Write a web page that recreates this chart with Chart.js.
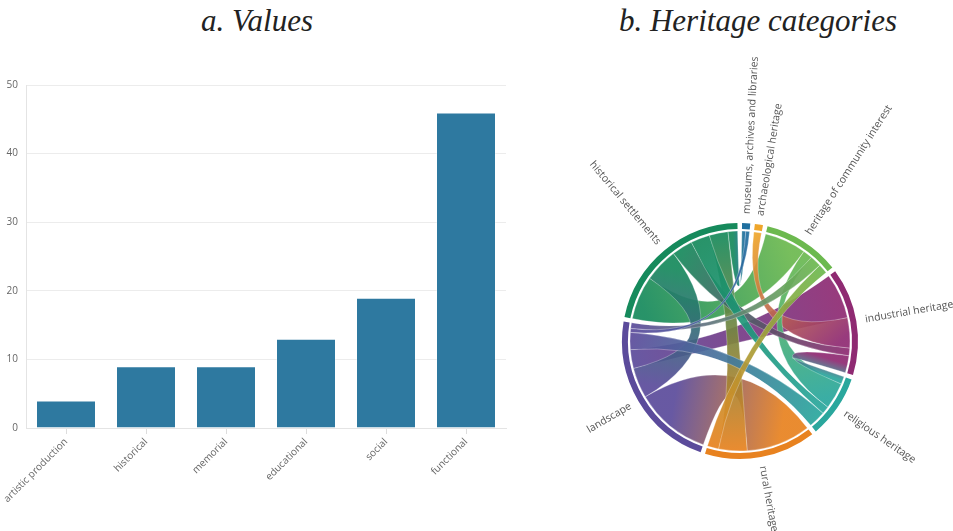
<!DOCTYPE html>
<html>
<head>
<meta charset="utf-8">
<script src="https://cdn.jsdelivr.net/npm/chart.js@4.4.1/dist/chart.umd.min.js"></script>
<style>
    body { margin: 0; width: 953px; height: 531px; background: #fff; position: relative; overflow: hidden; }
    .title { position: absolute; top: 3px; font-family: "Liberation Serif", serif; font-style: italic; font-size: 31px; color: #222; text-align: center; }
    #barBox { position: absolute; left: 0; top: 60px; width: 520px; height: 471px; }
    #chordBox { position: absolute; left: 520px; top: 50px; width: 433px; height: 481px; }
</style>
</head>
<body>
<div class="title" style="left:0;width:514px">a. Values</div>
<div class="title" style="left:560px;width:396px">b. Heritage categories</div>
<div id="barBox"><canvas id="barChart" width="520" height="471" style="width:520px;height:471px"></canvas></div>
<div id="chordBox"><canvas id="chordChart" width="433" height="481" style="width:433px;height:481px"></canvas></div>
<script>
// a. Values
const valueLabels = ["artistic production", "historical", "memorial", "educational", "social", "functional"];
const valueCounts = [4, 9, 9, 13, 19, 46];
const valueTicks = [0, 10, 20, 30, 40, 50];

// b. Heritage categories (clockwise from the top)
const groupNames = [
    "museums, archives and libraries",
    "archaeological heritage",
    "heritage of community interest",
    "industrial heritage",
    "religious heritage",
    "rural heritage",
    "landscape",
    "historical settlements"
];
const groupColors = ["#1f6f9f", "#efa62b", "#6cb94f", "#8f2a72", "#2aa79d", "#e8821f", "#5b4b9b", "#168a5c"];
// links[i][j] = width of the i-j ribbon at the end on category i
const links = [
    [0, 0, 0, 0, 0, 0, 2, 2],
    [0, 0, 0, 4, 0, 0, 0, 0],
    [0, 0, 0, 0, 5, 5, 6, 22],
    [0, 16, 0, 0, 9, 0, 24, 4],
    [0, 0, 14, 4, 0, 0, 9, 4],
    [0, 0, 6, 0, 0, 0, 34, 15],
    [2, 0, 3, 10, 9, 40, 0, 16],
    [5, 0, 23, 11, 10, 10, 18, 0]
];
// order of the ribbons along each arc, clockwise
const subOrder = [
    [7, 6],
    [3],
    [7, 4, 6, 5],
    [6, 1, 7, 4],
    [3, 2, 7, 6],
    [6, 7, 2],
    [5, 7, 3, 4, 0, 2],
    [2, 6, 3, 4, 5, 0]
];
const gapSize = 2.25;

const groupTotals = links.map(row => row.reduce((a, b) => a + b, 0));

const tickFont = { family: "'Open Sans', sans-serif", size: 10 };

new Chart(document.getElementById("barChart"), {
    type: "bar",
    data: {
        labels: valueLabels,
        datasets: [{
            data: valueCounts,
            backgroundColor: "#2e79a0",
            borderColor: "rgba(255,255,255,0.35)",
            borderWidth: 1,
            barPercentage: 0.75,
            categoryPercentage: 1
        }]
    },
    options: {
        responsive: false,
        animation: false,
        layout: { padding: { top: 25, right: 14, left: 0, bottom: 0 } },
        plugins: { legend: { display: false }, tooltip: { enabled: false } },
        scales: {
            x: {
                grid: { drawOnChartArea: false, offset: false, tickLength: 6, color: "#dddddd" },
                border: { color: "#e4e4e4" },
                ticks: { font: tickFont, color: "#666", maxRotation: 45, minRotation: 45, padding: 2 },
                afterFit: function (scale) { scale.height = 103; }
            },
            y: {
                min: 0,
                max: 50,
                afterBuildTicks: function (scale) { scale.ticks = valueTicks.map(v => ({ value: v })); },
                grid: { color: "#ececec", drawTicks: false },
                border: { color: "#e4e4e4" },
                ticks: { font: tickFont, color: "#666", padding: 8 },
                afterFit: function (scale) { scale.width = 26; }
            }
        }
    }
});

// ring slices with gaps between them
const ringData = [];
const ringColors = [];
groupTotals.forEach((t, i) => {
    ringData.push(t, gapSize);
    ringColors.push(groupColors[i], "rgba(0,0,0,0)");
});

function pt(cx, cy, r, a) {
    return [cx + r * Math.cos(a), cy + r * Math.sin(a)];
}

const chordPlugin = {
    id: "chord",
    beforeDatasetsDraw(chart) {
        const ctx = chart.ctx;
        const meta = chart.getDatasetMeta(0);
        const arcs = groupNames.map((n, g) => meta.data[g * 2]);
        const cx = arcs[0].x, cy = arcs[0].y;
        const r = arcs[0].innerRadius - 2;

        // split every arc into the ends of its ribbons
        const sub = groupNames.map(() => ({}));
        arcs.forEach((a, g) => {
            const k = (a.endAngle - a.startAngle) / groupTotals[g];
            let ang = a.startAngle;
            subOrder[g].forEach(t => {
                const w = links[g][t] * k;
                sub[g][t] = [ang, ang + w];
                ang += w;
            });
        });

        const pairs = [];
        for (let i = 0; i < links.length; i++) {
            for (let j = i + 1; j < links.length; j++) {
                if (links[i][j] > 0 || links[j][i] > 0) pairs.push([i, j, links[i][j] + links[j][i]]);
            }
        }
        pairs.sort((a, b) => b[2] - a[2]);

        ctx.save();
        pairs.forEach(([i, j]) => {
            const s = sub[i][j], t = sub[j][i];
            const sm = pt(cx, cy, r, (s[0] + s[1]) / 2);
            const tm = pt(cx, cy, r, (t[0] + t[1]) / 2);
            const grad = ctx.createLinearGradient(sm[0], sm[1], tm[0], tm[1]);
            grad.addColorStop(0, groupColors[i]);
            grad.addColorStop(1, groupColors[j]);
            const t0 = pt(cx, cy, r, t[0]);
            const s0 = pt(cx, cy, r, s[0]);
            ctx.beginPath();
            ctx.moveTo(s0[0], s0[1]);
            ctx.arc(cx, cy, r, s[0], s[1]);
            ctx.quadraticCurveTo(cx, cy, t0[0], t0[1]);
            ctx.arc(cx, cy, r, t[0], t[1]);
            ctx.quadraticCurveTo(cx, cy, s0[0], s0[1]);
            ctx.closePath();
            ctx.globalAlpha = 0.92;
            ctx.fillStyle = grad;
            ctx.fill();
            ctx.globalAlpha = 1;
            ctx.strokeStyle = "rgba(255,255,255,0.4)";
            ctx.lineWidth = 0.7;
            ctx.stroke();
        });
        ctx.restore();
    },
    afterDraw(chart) {
        const ctx = chart.ctx;
        const meta = chart.getDatasetMeta(0);
        ctx.save();
        ctx.font = "10.5px 'Open Sans', sans-serif";
        ctx.fillStyle = "#555";
        ctx.textBaseline = "middle";
        groupNames.forEach((name, g) => {
            const a = meta.data[g * 2];
            const mid = (a.startAngle + a.endAngle) / 2;
            const rr = a.outerRadius + 9;
            ctx.save();
            ctx.translate(a.x, a.y);
            const deg = ((mid + Math.PI / 2) * 180 / Math.PI + 360) % 360;
            if (deg < 180) {
                ctx.rotate(mid);
                ctx.textAlign = "left";
                ctx.fillText(name, rr, 0);
            } else {
                ctx.rotate(mid + Math.PI);
                ctx.textAlign = "right";
                ctx.fillText(name, -rr, 0);
            }
            ctx.restore();
        });
        ctx.restore();
    }
};

new Chart(document.getElementById("chordChart"), {
    type: "doughnut",
    data: {
        labels: groupNames.flatMap(n => [n, ""]),
        datasets: [{
            data: ringData,
            backgroundColor: ringColors,
            borderWidth: 0
        }]
    },
    options: {
        responsive: false,
        animation: false,
        radius: 118,
        cutout: (112 / 118 * 100) + "%",
        rotation: 1,
        layout: { padding: { top: 101, left: 7, right: 0, bottom: 0 } },
        plugins: { legend: { display: false }, tooltip: { enabled: false } }
    },
    plugins: [chordPlugin]
});
</script>
</body>
</html>
